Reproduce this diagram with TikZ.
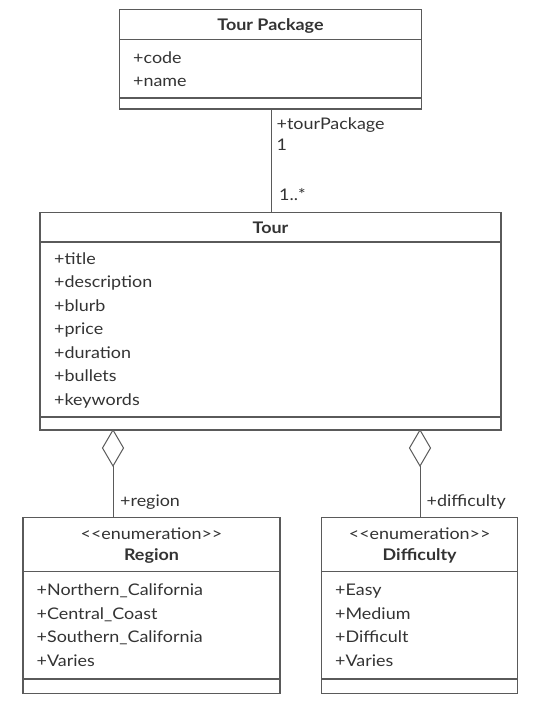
\documentclass[tikz,border=0pt]{standalone}
\usepackage{fontspec}
\setmainfont{Lato}[FakeStretch=1.12]
\usetikzlibrary{shapes.geometric}
\definecolor{ln}{HTML}{5A5A5A}
\definecolor{tx}{HTML}{333333}
\tikzset{
  cls/.style={draw=ln, line width=1.2pt, inner sep=0pt, outer sep=0pt, anchor=north west},
  sep/.style={draw=ln, line width=1.2pt},
  conn/.style={draw=ln, line width=1pt},
  attr/.style={anchor=base west, inner sep=0pt, text=tx, font=\fontsize{16}{19}\selectfont},
  title/.style={anchor=base, inner sep=0pt, text=tx, font=\bfseries\fontsize{16}{19}\selectfont},
  stereo/.style={anchor=base, inner sep=0pt, text=tx, font=\fontsize{16}{19}\selectfont},
  agg/.style={diamond, draw=ln, line width=1pt, fill=white, minimum width=21pt, minimum height=36pt, inner sep=0pt, outer sep=0pt, anchor=north},
}
\begin{document}
\begin{tikzpicture}[x=1pt,y=-1pt]
\useasboundingbox (0,0) rectangle (533,705);
% Tour Package
\node[cls, minimum width=302pt, minimum height=99.5pt] (tp) at (119.5,9.5) {};
\draw[sep] (119.5,39.5) -- (421.5,39.5);
\draw[sep] (119.5,98) -- (421.5,98);
\node[title] (tpname) at (270.5,30) {Tour Package};
\node[attr] (tpa1) at (133,63) {+code};
\node[attr] (tpa2) at (133,86) {+name};
% Tour
\node[cls, minimum width=461pt, minimum height=217.5pt] (tour) at (40,212.5) {};
\draw[sep] (40,242) -- (501,242);
\draw[sep] (40,417) -- (501,417);
\node[title] (tourname) at (270.5,233.3) {Tour};
\node[attr] (ta1) at (54,264.3) {+title};
\node[attr] (ta2) at (54,287.8) {+description};
\node[attr] (ta3) at (54,311.3) {+blurb};
\node[attr] (ta4) at (54,334.8) {+price};
\node[attr] (ta5) at (54,358.3) {+duration};
\node[attr] (ta6) at (54,381.8) {+bullets};
\node[attr] (ta7) at (54,405.3) {+keywords};
% Region
\node[cls, minimum width=257pt, minimum height=175.5pt] (region) at (23,517.7) {};
\draw[sep] (23,571.7) -- (280,571.7);
\draw[sep] (23,679) -- (280,679);
\node[stereo] (rst) at (151.5,539) {{<}{<}enumeration{>}{>}};
\node[title] (rname) at (151.5,560.7) {Region};
\node[attr] (ra1) at (36.5,595.7) {+Northern\_California};
\node[attr] (ra2) at (36.5,619.2) {+Central\_Coast};
\node[attr] (ra3) at (36.5,642.7) {+Southern\_California};
\node[attr] (ra4) at (36.5,666.2) {+Varies};
% Difficulty
\node[cls, minimum width=196pt, minimum height=175.5pt] (diff) at (321.7,517.7) {};
\draw[sep] (321.7,571.7) -- (517.7,571.7);
\draw[sep] (321.7,679) -- (517.7,679);
\node[stereo] (dst) at (419.7,539) {{<}{<}enumeration{>}{>}};
\node[title] (dname) at (419.7,560.7) {Difficulty};
\node[attr] (da1) at (335,595.7) {+Easy};
\node[attr] (da2) at (335,619.2) {+Medium};
\node[attr] (da3) at (335,642.7) {+Difficult};
\node[attr] (da4) at (335,666.2) {+Varies};
% Association Tour Package -- Tour
\coordinate (c1) at (271,109);
\coordinate (c2) at (271,212.5);
\draw[conn] (c1) -- (c2);
\node[attr] (l1) at (276.5,129.3) {+tourPackage};
\node[attr] (l2) at (276.5,150.7) {1};
\node[attr] (l3) at (279,200.7) {1..*};
% Aggregations
\node[agg] (d1) at (113,430) {};
\node[agg] (d2) at (420,430) {};
\draw[conn] (d1.south) -- (d1.south |- region.north);
\draw[conn] (d2.south) -- (d2.south |- diff.north);
\node[attr] (l4) at (120,506.7) {+region};
\node[attr] (l5) at (426.5,506.7) {+difficulty};
\end{tikzpicture}
\end{document}
